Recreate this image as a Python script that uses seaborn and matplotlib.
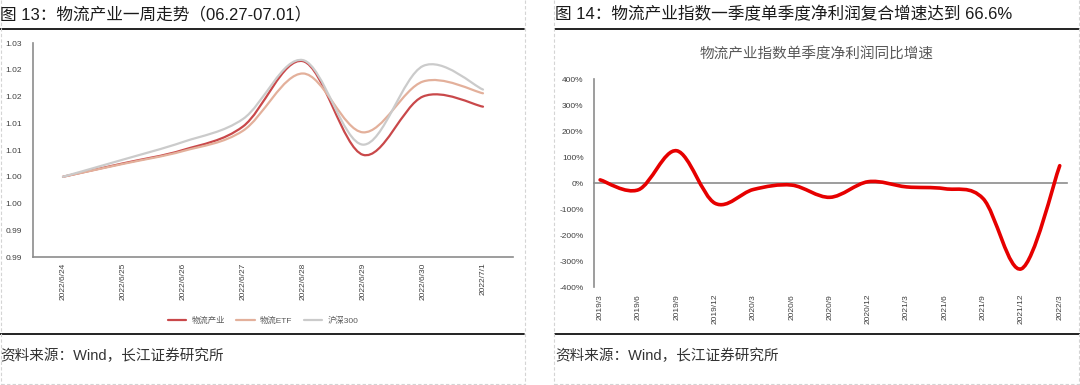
import numpy as np
import pandas as pd
import matplotlib
matplotlib.use("Agg")
import matplotlib.pyplot as plt
import seaborn as sns
from matplotlib.path import Path
from matplotlib.patches import PathPatch
from matplotlib.lines import Line2D
from matplotlib.ticker import FuncFormatter

# ---------------- data ----------------
dates = ["2022/6/24", "2022/6/25", "2022/6/26", "2022/6/27",
         "2022/6/28", "2022/6/29", "2022/6/30", "2022/7/1"]
logistics_index = [1.000, 1.0025, 1.0050, 1.0094, 1.0216, 1.0041, 1.0150, 1.0131]
logistics_etf = [1.000, 1.0024, 1.0048, 1.0086, 1.0193, 1.0083, 1.0178, 1.0156]
csi300 = [1.000, 1.0032, 1.0065, 1.0108, 1.0218, 1.0060, 1.0207, 1.0163]
series_names = ["物流产业", "物流ETF", "沪深300"]
left_yticks = [0.985, 0.99, 0.995, 1.00, 1.005, 1.01, 1.015, 1.02, 1.025]
left_yticklabels = ["0.99", "0.99", "1.00", "1.00", "1.01", "1.01", "1.02", "1.02", "1.03"]

quarters = ["2019/3", "2019/6", "2019/9", "2019/12", "2020/3", "2020/6", "2020/9",
            "2020/12", "2021/3", "2021/6", "2021/9", "2021/12", "2022/3"]
profit_growth = [12, -26, 124, -78, -25, -8, -55, 5, -15, -22, -60, -330, 66.6]
right_yticks = [-400, -300, -200, -100, 0, 100, 200, 300, 400]

title_left = "图 13：物流产业一周走势（06.27-07.01）"
title_right = "图 14：物流产业指数一季度单季度净利润复合增速达到 66.6%"
inner_title_right = "物流产业指数单季度净利润同比增速"
source_text = "资料来源：Wind，长江证券研究所"

# ---------------- style ----------------
sns.set_theme(style="white")
plt.rcParams["font.family"] = ["Liberation Sans", "Noto Sans CJK SC", "DejaVu Sans"]
plt.rcParams["axes.unicode_minus"] = False

W, H = 1080, 385
fig = plt.figure(figsize=(W / 100, H / 100), dpi=100)


def fx(px):
    return px / W


def fy(py):
    return 1 - py / H


def smooth_lines(ax, lines):
    """Render each seaborn line as a smoothed (Excel-like) Bezier curve."""
    for line in lines:
        xy = line.get_xydata()
        n = len(xy)
        verts = [xy[0]]
        codes = [Path.MOVETO]
        for i in range(n - 1):
            p0 = xy[i - 1] if i > 0 else xy[i]
            p1 = xy[i]
            p2 = xy[i + 1]
            p3 = xy[i + 2] if i + 2 < n else xy[i + 1]
            c1 = p1 + (p2 - p0) / 6.0
            c2 = p2 - (p3 - p1) / 6.0
            verts += [c1, c2, p2]
            codes += [Path.CURVE4] * 3
        patch = PathPatch(Path(verts, codes), fill=False, ec=line.get_color(),
                          lw=line.get_linewidth(), capstyle="round", joinstyle="round",
                          zorder=3)
        ax.add_patch(patch)
        line.set_visible(False)


axis_gray = "#8c8c8c"
text_gray = "#404040"

# ---------------- left chart ----------------
ax1 = fig.add_axes([fx(33), fy(257), fx(513) - fx(33), fy(43) - fy(257)])
idx = np.arange(len(dates))
df_left = pd.DataFrame({
    "idx": np.concatenate([idx, idx, idx]),
    "value": logistics_index + logistics_etf + csi300,
    "series": np.repeat(series_names, len(dates)),
})
left_colors = {"物流产业": "#C9484A", "物流ETF": "#E3B09B", "沪深300": "#CBCBCB"}
sns.lineplot(data=df_left, x="idx", y="value", hue="series", hue_order=series_names,
             palette=left_colors, ax=ax1, legend=False, lw=1.6, errorbar=None, sort=False)
smooth_lines(ax1, list(ax1.lines))

ax1.set_xlim(-0.5, len(dates) - 0.5)
ax1.set_ylim(left_yticks[0], left_yticks[-1])
ax1.set_xticks(idx)
ax1.set_xticklabels(dates, rotation=90, fontsize=6, color=text_gray)
ax1.set_xticks(np.arange(len(dates) + 1) - 0.5, minor=True)
ax1.set_yticks(left_yticks)
ax1.set_yticklabels(left_yticklabels, fontsize=6, color=text_gray)
ax1.tick_params(axis="x", which="major", length=0, pad=4)
ax1.tick_params(axis="x", which="minor", length=2.5, direction="in", color=axis_gray, width=0.8)
ax1.tick_params(axis="y", length=2.5, direction="inout", color=axis_gray, width=0.8, pad=7)
for s in ["top", "right"]:
    ax1.spines[s].set_visible(False)
for s in ["left", "bottom"]:
    ax1.spines[s].set_color(axis_gray)
    ax1.spines[s].set_linewidth(1.2)
ax1.set_xlabel("")
ax1.set_ylabel("")
ax1.grid(False)

handles = [Line2D([0], [0], color=left_colors[n], lw=1.6) for n in series_names]
fig.legend(handles, series_names, loc="center", bbox_to_anchor=(fx(263), fy(321)),
           ncol=3, frameon=False, fontsize=6, handlelength=2.2, columnspacing=1.4,
           handletextpad=0.6, labelcolor="#595959")

# ---------------- right chart ----------------
ax2 = fig.add_axes([fx(594), fy(287), fx(1067) - fx(594), fy(79) - fy(287)])
qidx = np.arange(len(quarters))
df_right = pd.DataFrame({"idx": qidx, "growth": profit_growth})
sns.lineplot(data=df_right, x="idx", y="growth", ax=ax2, color="#E60000", lw=2.6,
             errorbar=None, sort=False)
smooth_lines(ax2, list(ax2.lines))

ax2.set_xlim(-0.16, len(quarters) - 1 + 0.19)
ax2.set_ylim(-400, 400)
ax2.set_yticks(right_yticks)
ax2.yaxis.set_major_formatter(FuncFormatter(lambda v, p: f"{int(round(v))}%"))
ax2.tick_params(axis="y", labelsize=6, labelcolor=text_gray, length=2.5, direction="out",
                color=axis_gray, width=0.8, pad=5)

# category axis line sits at 0%, its labels stay at the bottom
ax2.spines["bottom"].set_position(("data", 0))
ax2.spines["bottom"].set_color(axis_gray)
ax2.spines["bottom"].set_linewidth(1.2)
ax2.spines["bottom"].set_zorder(2)
ax2.set_xticks(qidx - 0.16)
ax2.set_xticklabels([])
ax2.tick_params(axis="x", direction="in", length=2.5, color=axis_gray, width=0.8)

label_axis = ax2.secondary_xaxis("bottom")
label_axis.set_xticks(qidx)
label_axis.set_xticklabels(quarters, rotation=90, fontsize=6, color=text_gray)
label_axis.tick_params(axis="x", length=0, pad=5)
for s in label_axis.spines.values():
    s.set_visible(False)

for s in ["top", "right"]:
    ax2.spines[s].set_visible(False)
ax2.spines["left"].set_color(axis_gray)
ax2.spines["left"].set_linewidth(1.2)
ax2.set_xlabel("")
ax2.set_ylabel("")
ax2.grid(False)

fig.text(fx(817), fy(55), inner_title_right, ha="center", va="center", fontsize=10.5,
         color="#595959")

# ---------------- frame, titles, sources ----------------
title_kw = dict(ha="left", va="center", fontsize=12, color="#1a1a1a")
fig.text(fx(0), fy(14), title_left, **title_kw)
fig.text(fx(555), fy(14), title_right, **title_kw)

src_kw = dict(ha="left", va="center", fontsize=10.5, color="#333333")
fig.text(fx(0), fy(356), source_text, **src_kw)
fig.text(fx(555), fy(356), source_text, **src_kw)

for x0, x1 in [(0, 524), (555, 1080)]:
    for yy in (29, 334):
        fig.add_artist(Line2D([fx(x0), fx(x1)], [fy(yy), fy(yy)], color="#111111", lw=1.3,
                              transform=fig.transFigure))

dash_kw = dict(color="#d4d4d4", lw=0.8, ls=(0, (3, 2)), transform=fig.transFigure)
for xx in (1, 525, 554, 1079):
    fig.add_artist(Line2D([fx(xx), fx(xx)], [fy(0), fy(385)], **dash_kw))
for xx0, xx1 in [(1, 525), (554, 1079)]:
    fig.add_artist(Line2D([fx(xx0), fx(xx1)], [fy(383.5), fy(383.5)], **dash_kw))

fig.savefig("out.png", dpi=100, facecolor="white")
